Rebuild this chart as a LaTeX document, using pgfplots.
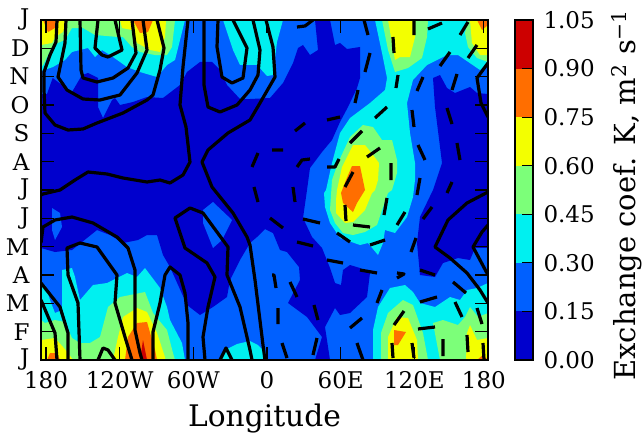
\documentclass[border=0pt]{standalone}
\usepackage{fontspec}
\setmainfont{DejaVu Serif}
\usepackage{pgfplots}
\pgfplotsset{compat=1.18}
\definecolor{cA}{RGB}{0,0,205}
\definecolor{cB}{RGB}{0,96,255}
\definecolor{cC}{RGB}{0,240,240}
\definecolor{cD}{RGB}{124,255,121}
\definecolor{cE}{RGB}{243,255,0}
\definecolor{cF}{RGB}{255,110,0}
\definecolor{cG}{RGB}{205,0,0}
\pgfplotsset{
  fA/.style={fill=cA,draw=none,forget plot},
  fB/.style={fill=cB,draw=none,forget plot},
  fC/.style={fill=cC,draw=none,forget plot},
  fD/.style={fill=cD,draw=none,forget plot},
  fE/.style={fill=cE,draw=none,forget plot},
  fF/.style={fill=cF,draw=none,forget plot},
  fG/.style={fill=cG,draw=none,forget plot},
  ct/.style={black,line width=3.2pt,line join=round,forget plot,unbounded coords=jump},
}
\begin{document}
\begin{tikzpicture}[x=1pt,y=1pt]
\path[use as bounding box] (0,0) rectangle (644,434);
\begin{axis}[
  at={(41pt,74pt)},anchor=south west,
  scale only axis,width=447pt,height=340pt,
  xmin=-184.04,xmax=179.97,ymin=0,ymax=12,
  x filter/.expression={(x-267)/1.228},
  y filter/.expression={(360-y)*12/340},
  axis on top,no marks,
  axis line style={line width=2.5pt},
  tick align=inside,major tick length=13pt,
  tick style={black,line width=1.2pt},
  xtick={-180,-120,-60,0,60,120,176.6},
  xticklabels={180,120W,60W,0,60E,120E,180},
  ytick={0,1,2,3,4,5,6,7,8,9,10,11,12},
  yticklabels={J,F,M,A,M,J,J,A,S,O,N,D,J},
  tick label style={font=\fontsize{23}{27}\selectfont},
  xticklabel style={yshift=-8pt},
  yticklabel style={xshift=-8pt},
  xlabel={Longitude},
  xlabel style={font=\fontsize{29.7}{33}\selectfont,yshift=-8pt},
]
% --- level 0.15-0.30 as the base, level 0-0.15 regions over it
\addplot[fB] coordinates {(41,20)(488,20)(488,360)(41,360)} -- cycle;
\addplot[fA] coordinates {(41,94)(47,94)(52.7,78)(58,82)(72,92)(82,75)(88,73)(98,78)(98,107)(103,118)(112,100)(115,98)(120,105)(133,102)(147,97)(163,98)(180,85)(187,72)(200,62)(212,62)(220,70)(227,85)(240,99)(250,99)(270,98)(283,83)(293,63)(298,48)(303,45)(310,55)(318,50)(315,20)(330,20)(335,45)(340,43)(347,49)(360,47)(360,72)(360,78)(357,88)(348,107)(340,122)(332,140)(322,152)(310,168)(307,190)(303,218)(312,237)(322,248)(330,268)(335,283)(341,285)(343,270)(350,265)(360,268)(370,273)(367,297)(350,313)(340,315)(335,308)(325,327)(330,360)(315,360)(322,337)(307,317)(288,303)(300,280)(299,267)(287,252)(280,250)(273,233)(265,229)(257,237)(250,243)(240,260)(230,280)(227,297)(213,307)(200,315)(187,305)(170,267)(163,255)(157,235)(147,235)(138,240)(123,243)(110,235)(97,230)(82,242)(72,250)(55,252)(41,248)} -- cycle;
\addplot[fA] coordinates {(433,78)(440,75)(447,88)(455,93)(470,87)(477,93)(488,94)(488,248)(475,248)(470,260)(458,258)(443,263)(435,277)(420,275)(417,243)(420,217)(433,190)(442,163)(435,107)} -- cycle;
\addplot[fB] coordinates {(52,208)(60,213)(62,227)(55,240)(52,230)} -- cycle;
\addplot[fB] coordinates {(203,210)(213,202)(232,220)(222,240)(213,248)(203,223)} -- cycle;
% --- level 0.30-0.45
\addplot[fC] coordinates {(41,71)(53,67)(65,60)(72,52)(80,50)(88,48)(95,57)(102,50)(113,57)(127,67)(140,72)(157,77)(167,65)(175,60)(185,20)(41,20)} -- cycle;
\addplot[fC] coordinates {(223,20)(233,50)(240,65)(250,65)(257,65)(267,76)(273,75)(277,42)(283,20)} -- cycle;
\addplot[fC] coordinates {(375,20)(382,53)(387,78)(385,90)(370,103)(350,118)(340,133)(332,163)(326,190)(324,193)(325,207)(330,223)(340,238)(360,245)(368,243)(378,255)(383,243)(385,230)(395,233)(407,217)(413,197)(415,180)(415,163)(410,133)(407,103)(413,80)(427,65)(447,55)(458,55)(480,70)(488,62)(488,20)} -- cycle;
\addplot[fC] coordinates {(41,285)(45,285)(50,300)(55,313)(62,310)(62,270)(72,268)(75,277)(80,300)(93,285)(107,283)(127,273)(137,277)(145,268)(160,288)(167,307)(170,320)(182,343)(185,360)(41,360)} -- cycle;
\addplot[fC] coordinates {(220,360)(227,349)(237,344)(250,341)(258,345)(265,352)(268,360)} -- cycle;
\addplot[fC] coordinates {(373,360)(373,330)(378,307)(390,288)(405,285)(413,292)(420,303)(435,307)(450,297)(460,300)(467,290)(477,288)(488,283)(488,360)} -- cycle;
% --- level 0.45-0.60
\addplot[fD] coordinates {(41,67)(43,65)(53,45)(65,40)(72,28)(83,28)(95,35)(118,37)(123,37)(132,47)(140,52)(155,55)(167,55)(172,47)(175,20)(41,20)} -- cycle;
\addplot[fD] coordinates {(382,20)(388,50)(395,72)(408,68)(422,58)(427,37)(428,20)} -- cycle;
\addplot[fD] coordinates {(468,20)(465,33)(468,47)(477,58)(488,62)(488,20)} -- cycle;
\addplot[fD] coordinates {(363,125)(373,127)(382,140)(392,140)(397,160)(397,173)(392,190)(388,193)(382,210)(377,225)(365,232)(353,235)(343,233)(335,223)(330,210)(332,180)(338,163)(350,137)} -- cycle;
\addplot[fD] coordinates {(41,320)(45,323)(55,320)(65,322)(72,338)(80,343)(90,343)(100,337)(108,307)(120,297)(145,292)(153,313)(167,330)(173,353)(175,360)(41,360)} -- cycle;
\addplot[fD] coordinates {(381,360)(381,333)(388,313)(403,300)(413,305)(423,333)(428,360)} -- cycle;
\addplot[fD] coordinates {(440,360)(433,323)(443,320)(458,325)(465,317)(470,307)(478,317)(488,313)(488,360)} -- cycle;
% --- level 0.60-0.75
\addplot[fE] coordinates {(41,45)(52,43)(55,37)(63,32)(68,20)(41,20)} -- cycle;
\addplot[fE] coordinates {(120,20)(122,28)(132,30)(137,43)(150,50)(160,52)(165,37)(166,20)} -- cycle;
\addplot[fE] coordinates {(388,20)(395,60)(400,57)(410,57)(415,37)(415,20)} -- cycle;
\addplot[fE] coordinates {(470,20)(472,43)(480,55)(488,55)(488,20)} -- cycle;
\addplot[fE] coordinates {(353,145)(365,145)(373,155)(379,163)(378,180)(375,190)(372,193)(365,210)(353,222)(345,223)(336,213)(336,200)(337,190)(342,167)} -- cycle;
\addplot[fE] coordinates {(113,360)(118,337)(123,317)(137,308)(147,312)(157,333)(165,357)(165,360)} -- cycle;
\addplot[fE] coordinates {(41,340)(55,338)(63,347)(68,353)(73,360)(41,360)} -- cycle;
\addplot[fE] coordinates {(388,360)(388,337)(397,317)(408,318)(417,340)(418,360)} -- cycle;
\addplot[fE] coordinates {(466,360)(467,333)(470,325)(477,340)(488,338)(488,360)} -- cycle;
% --- level 0.75-0.90
\addplot[fF] coordinates {(43,20)(48,32)(55,28)(60,20)} -- cycle;
\addplot[fF] coordinates {(133,20)(140,33)(148,32)(153,20)} -- cycle;
\addplot[fF] coordinates {(477,20)(482,30)(488,25)(488,20)} -- cycle;
\addplot[fF] coordinates {(352,166)(360,166)(365,190)(357,203)(353,212)(343,203)(341,193)(346,180)} -- cycle;
\addplot[fF] coordinates {(125,360)(128,337)(137,323)(147,322)(155,350)(157,360)} -- cycle;
\addplot[fF] coordinates {(47,360)(50,353)(57,353)(60,360)} -- cycle;
\addplot[fF] coordinates {(394,345)(394,330)(406,332)(398,345)} -- cycle;
\addplot[fF] coordinates {(477,360)(483,355)(488,360)} -- cycle;
% --- level 0.90-1.05
\addplot[fG] coordinates {(140,360)(143,340)(147,360)} -- cycle;
% --- solid contours
\addplot[ct] coordinates {(57,20)(56,42)(50,55)(44,72)(44,90)(45,113)(55,125)(68,130)(83,129)(97,123)(123,113)(147,100)(153,95)(160,70)(164,48)(157,20)};
\addplot[ct] coordinates {(66,20)(65,43)(58,77)(67,90)(83,99)(100,100)(120,95)(137,73)(147,50)(143,20)};
\addplot[ct] coordinates {(80,20)(81,70)(83,78)(97,82)(113,78)(128,68)(136,53)(132,20)};
\addplot[ct] coordinates {(98,20)(95,48)(102,55)(108,57)(122,50)(115,20)};
\addplot[ct] coordinates {(188,20)(183,67)(180,105)(186,127)(190,162)(183,175)(170,183)(160,180)(147,182)(123,178)(107,174)(88,172)(75,180)(60,190)(43,194)(41,195)};
\addplot[ct] coordinates {(204,20)(204,85)(208,107)(220,112)(237,105)(250,90)(258,75)(260,50)(253,20)};
\addplot[ct] coordinates {(218,20)(217,47)(222,77)(232,83)(243,78)(247,48)(233,20)};
\addplot[ct] coordinates {(266,20)(273,47)(275,77)(260,103)(250,120)(228,133)(208,150)(202,162)(212,187)(233,213)(247,237)(250,245)(255,280)(263,345)(265,360)};
\addplot[ct] coordinates {(488,63)(477,78)(481,103)(488,117)};
\addplot[ct] coordinates {(41,243)(43,227)(55,220)(72,217)(93,223)(117,237)(128,248)(135,270)(135,330)(140,353)(142,360)};
\addplot[ct] coordinates {(41,300)(55,333)(57,360)};
\addplot[ct] coordinates {(41,283)(60,307)(68,333)(68,360)};
\addplot[ct] coordinates {(80,360)(78,303)(68,275)(67,248)(80,243)(97,247)(117,275)(115,303)(125,337)(132,360)};
\addplot[ct] coordinates {(98,360)(103,348)(108,350)(115,360)};
\addplot[ct] coordinates {(153,360)(153,332)(160,303)(165,275)(170,267)(180,275)(185,293)(188,323)(188,360)};
\addplot[ct] coordinates {(205,360)(203,337)(208,307)(215,277)(207,263)(185,248)(175,218)(190,208)(203,213)(228,247)(227,275)(240,307)(250,350)(252,360)};
\addplot[ct] coordinates {(220,360)(226,348)(232,360)};
\addplot[ct] coordinates {(488,192)(467,203)(448,220)(435,247)(450,258)(467,273)(480,290)(488,303)};
\addplot[ct] coordinates {(488,225)(482,232)(473,247)(480,260)(488,275)};
% --- dashed contours, dash by dash as they stand in the picture
\addplot[ct] coordinates {
(297,27)(305,26)(313,20)(0,nan)
(364,20)(368,35)(0,nan)
(370,53)(365,72)(0,nan)
(358,90)(355,103)(0,nan)
(340,117)(327,120)(0,nan)
(305,123)(295,131)(0,nan)
(283,150)(272,150)(0,nan)
(258,153)(252,167)(0,nan)
(254,187)(258,202)(0,nan)
(270,218)(283,228)(0,nan)
(297,242)(313,246)(0,nan)
(327,260)(343,263)(0,nan)
(360,270)(377,273)(0,nan)
(397,273)(404,274)(397,278)(0,nan)
(382,290)(377,303)(0,nan)
(362,318)(350,328)(0,nan)
(357,343)(363,360)(0,nan)
(272,275)(274,275)(276,288)(0,nan)
(290,282)(297,297)(0,nan)
(278,308)(278,324)(0,nan)
(282,343)(287,358)(0,nan)
(314,305)(318,320)(0,nan)
(317,338)(313,355)(0,nan)
(350,143)(362,131)(0,nan)
(367,157)(380,148)(0,nan)
(327,167)(335,167)(339,159)(0,nan)
(297,167)(302,160)(310,159)(0,nan)
(345,187)(353,172)(0,nan)
(391,163)(391,180)(0,nan)
(387,198)(384,215)(0,nan)
(375,118)(387,107)(0,nan)
(393,37)(394,53)(0,nan)
(398,75)(396,88)(0,nan)
(414,20)(414,35)(0,nan)
(428,29)(442,23)(0,nan)
(460,35)(468,22)(0,nan)
(477,45)(468,58)(0,nan)
(450,52)(440,66)(0,nan)
(423,77)(417,91)(0,nan)
(457,74)(452,90)(0,nan)
(412,110)(414,127)(0,nan)
(418,145)(425,160)(0,nan)
(447,108)(452,124)(0,nan)
(457,143)(460,160)(0,nan)
(420,178)(417,195)(0,nan)
(452,182)(447,193)(0,nan)
(432,207)(423,219)(0,nan)
(405,212)(397,225)(0,nan)
(345,205)(346,221)(0,nan)
(353,225)(370,227)(0,nan)
(337,233)(350,242)(0,nan)
(370,245)(385,240)(0,nan)
(303,219)(320,223)(0,nan)
(416,238)(411,252)(0,nan)
(420,270)(435,275)(0,nan)
(453,282)(466,293)(0,nan)
(420,302)(437,297)(0,nan)
(455,302)(462,317)(0,nan)
(477,308)(482,324)(0,nan)
(394,325)(404,311)(0,nan)
(418,329)(435,327)(0,nan)
(392,343)(393,358)(0,nan)
(412,343)(414,358)(0,nan)
(443,339)(443,356)(0,nan)
(467,335)(468,352)(0,nan)
(483,343)(484,360)(0,nan)
(293,187)(295,202)
};
\end{axis}
\begin{axis}[
  at={(515pt,74pt)},anchor=south west,
  scale only axis,width=18pt,height=340pt,
  xmin=0,xmax=1,ymin=0,ymax=1.05,
  axis on top,no marks,
  axis line style={line width=2.5pt},
  xtick=\empty,
  ytick={0,0.15,0.3,0.45,0.6,0.75,0.9,1.05},
  yticklabels={0.00,0.15,0.30,0.45,0.60,0.75,0.90,1.05},
  ytick pos=right,yticklabel pos=right,
  tick align=inside,major tick length=11pt,
  tick style={black,line width=1.2pt},
  tick label style={font=\fontsize{23}{27}\selectfont},
  yticklabel style={xshift=7pt},
  ylabel={Exchange coef. K, m\textsuperscript{2} s\textsuperscript{−1}},
  every axis y label/.style={at={(axis description cs:6.72,0.485)},rotate=90,anchor=base,font=\fontsize{29}{33}\selectfont},
]
\addplot[fA] coordinates {(0,0)(1,0)(1,0.15)(0,0.15)} -- cycle;
\addplot[fB] coordinates {(0,0.15)(1,0.15)(1,0.30)(0,0.30)} -- cycle;
\addplot[fC] coordinates {(0,0.30)(1,0.30)(1,0.45)(0,0.45)} -- cycle;
\addplot[fD] coordinates {(0,0.45)(1,0.45)(1,0.60)(0,0.60)} -- cycle;
\addplot[fE] coordinates {(0,0.60)(1,0.60)(1,0.75)(0,0.75)} -- cycle;
\addplot[fF] coordinates {(0,0.75)(1,0.75)(1,0.90)(0,0.90)} -- cycle;
\addplot[fG] coordinates {(0,0.90)(1,0.90)(1,1.05)(0,1.05)} -- cycle;
\end{axis}
\end{tikzpicture}
\end{document}
